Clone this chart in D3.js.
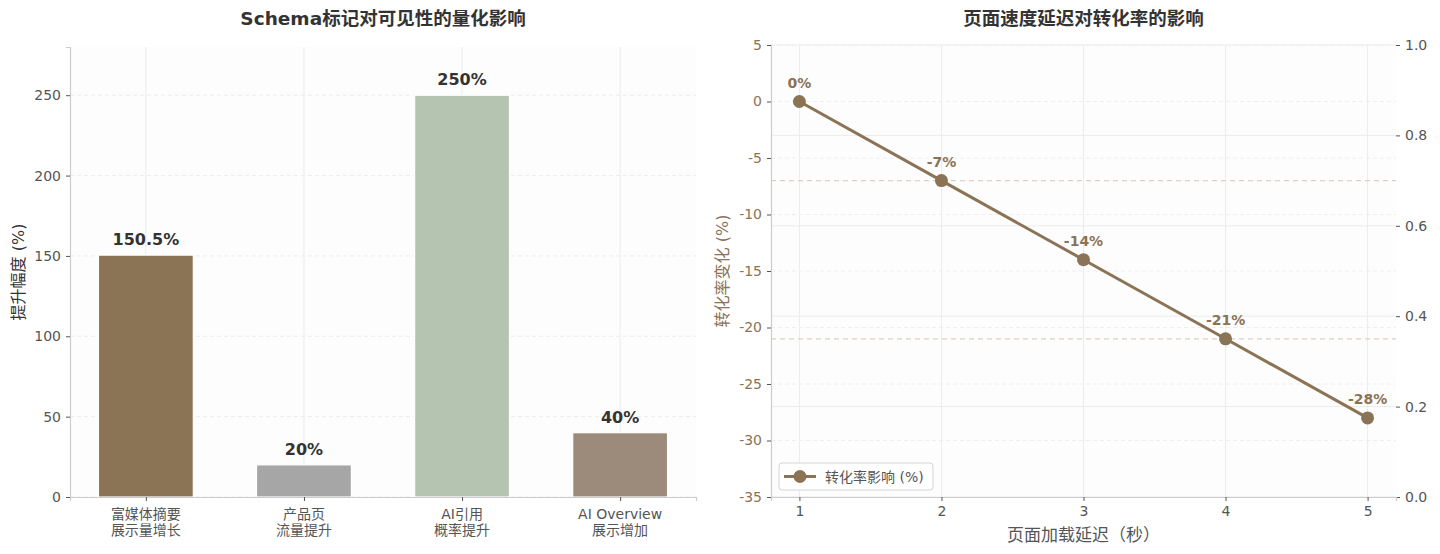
<!DOCTYPE html>
<html>
<head>
<meta charset="utf-8">
<script src="https://cdn.jsdelivr.net/npm/d3@7"></script>
<style>
body { margin: 0; background: #fff; }
svg text { font-family: "DejaVu Sans", "Noto Sans CJK SC", sans-serif; }
.tick text { font-size: 14px; fill: #555; }
.tick line { stroke: #555; }
</style>
</head>
<body>
<div id="chart"></div>
<script>
// left chart data
const barLabels = [['富媒体摘要', '展示量增长'], ['产品页', '流量提升'], ['AI引用', '概率提升'], ['AI Overview', '展示增加']];
const barValues = [150.5, 20, 250, 40];
const barText = ['150.5%', '20%', '250%', '40%'];
const barColors = ['#8B7355', '#A6A6A6', '#B5C4B1', '#9C8B7A'];
const barTicks = [0, 50, 100, 150, 200, 250];

// right chart data
const delaySec = [1, 2, 3, 4, 5];
const convChange = [0, -7, -14, -21, -28];
const convTicks = [5, 0, -5, -10, -15, -20, -25, -30, -35];
const rightTicks = [0, 0.2, 0.4, 0.6, 0.8, 1.0];
const refLines = [-7, -21];

const brown = '#8B7355';

const svg = d3.select('#chart').append('svg')
    .attr('width', 1440).attr('height', 554);

// ---------- left: bars ----------
const L = { left: 70, right: 696, top: 47, bottom: 497 };
const x1 = d3.scaleLinear().domain([-0.48, 3.48]).range([L.left, L.right]);
const y1 = d3.scaleLinear().domain([0, 280]).range([L.bottom, L.top]);
const g1 = svg.append('g');

g1.append('rect')
    .attr('x', L.left).attr('y', L.top)
    .attr('width', L.right - L.left).attr('height', L.bottom - L.top)
    .attr('fill', '#fdfdfd');

g1.selectAll('.vgrid').data(barValues).enter().append('line')
    .attr('x1', (d, i) => x1(i)).attr('x2', (d, i) => x1(i))
    .attr('y1', L.top).attr('y2', L.bottom)
    .attr('stroke', '#ececec').attr('stroke-width', 1);

g1.selectAll('.hgrid').data(barTicks).enter().append('line')
    .attr('x1', L.left).attr('x2', L.right)
    .attr('y1', d => y1(d)).attr('y2', d => y1(d))
    .attr('stroke', '#ececec').attr('stroke-dasharray', '4,3');

const bw = x1(0.6) - x1(0);
g1.selectAll('.bar').data(barValues).enter().append('rect')
    .attr('x', (d, i) => x1(i) - bw / 2)
    .attr('y', d => y1(d))
    .attr('width', bw)
    .attr('height', d => y1(0) - y1(d))
    .attr('fill', (d, i) => barColors[i])
    .attr('stroke', '#fff').attr('stroke-width', 1.2);

g1.selectAll('.blabel').data(barValues).enter().append('text')
    .attr('x', (d, i) => x1(i))
    .attr('y', d => y1(d) - 10)
    .attr('text-anchor', 'middle')
    .style('font-size', '16px').style('font-weight', 'bold')
    .attr('fill', '#333')
    .text((d, i) => barText[i]);

const ay1 = g1.append('g')
    .attr('transform', `translate(${L.left},0)`)
    .call(d3.axisLeft(y1).tickValues(barTicks).tickSize(4).tickPadding(5));
ay1.select('.domain').attr('stroke', '#ccc').attr('stroke-width', 1.2);

const ax1 = g1.append('g')
    .attr('transform', `translate(0,${L.bottom})`)
    .call(d3.axisBottom(x1).tickValues([0, 1, 2, 3]).tickSize(4).tickFormat(''));
ax1.select('.domain').attr('stroke', '#ccc').attr('stroke-width', 1.2);

g1.selectAll('.xlab').data(barLabels).enter().append('text')
    .attr('x', (d, i) => x1(i))
    .attr('y', L.bottom + 22)
    .attr('text-anchor', 'middle')
    .style('font-size', '14px').attr('fill', '#555')
    .selectAll('tspan').data(d => d).enter().append('tspan')
    .attr('x', function() { return d3.select(this.parentNode).attr('x'); })
    .attr('dy', (d, i) => i === 0 ? 0 : 16)
    .text(d => d);

g1.append('text')
    .attr('transform', `translate(24,${(L.top + L.bottom) / 2}) rotate(-90)`)
    .attr('text-anchor', 'middle')
    .style('font-size', '16px').attr('fill', '#333')
    .text('提升幅度 (%)');

g1.append('text')
    .attr('x', (L.left + L.right) / 2).attr('y', 25)
    .attr('text-anchor', 'middle')
    .style('font-size', '18.5px').style('font-weight', 'bold').attr('fill', '#333')
    .text('Schema标记对可见性的量化影响');

// ---------- right: line ----------
const R = { left: 771, right: 1396, top: 45, bottom: 497 };
const x2 = d3.scaleLinear().domain([0.8, 5.2]).range([R.left, R.right]);
const y2 = d3.scaleLinear().domain([-35, 5]).range([R.bottom, R.top]);
const y3 = d3.scaleLinear().domain([0, 1]).range([R.bottom, R.top]);
const g2 = svg.append('g');

g2.append('rect')
    .attr('x', R.left).attr('y', R.top)
    .attr('width', R.right - R.left).attr('height', R.bottom - R.top)
    .attr('fill', '#fdfdfd');

g2.selectAll('.vgrid').data(delaySec).enter().append('line')
    .attr('x1', d => x2(d)).attr('x2', d => x2(d))
    .attr('y1', R.top).attr('y2', R.bottom)
    .attr('stroke', '#ececec');

g2.selectAll('.hgrid').data(convTicks).enter().append('line')
    .attr('x1', R.left).attr('x2', R.right)
    .attr('y1', d => y2(d)).attr('y2', d => y2(d))
    .attr('stroke', '#eeeeee').attr('stroke-dasharray', '4,3');

g2.selectAll('.rgrid').data(rightTicks).enter().append('line')
    .attr('x1', R.left).attr('x2', R.right)
    .attr('y1', d => y3(d)).attr('y2', d => y3(d))
    .attr('stroke', '#ececec');

g2.selectAll('.ref').data(refLines).enter().append('line')
    .attr('x1', R.left).attr('x2', R.right)
    .attr('y1', d => y2(d)).attr('y2', d => y2(d))
    .attr('stroke', '#dcd3c6').attr('stroke-width', 1.2).attr('stroke-dasharray', '5,4');

const line = d3.line()
    .x((d, i) => x2(delaySec[i]))
    .y(d => y2(d));

g2.append('path')
    .datum(convChange)
    .attr('d', line)
    .attr('fill', 'none')
    .attr('stroke', brown).attr('stroke-width', 3);

g2.selectAll('.dot').data(convChange).enter().append('circle')
    .attr('cx', (d, i) => x2(delaySec[i]))
    .attr('cy', d => y2(d))
    .attr('r', 6.5)
    .attr('fill', brown);

g2.selectAll('.plabel').data(convChange).enter().append('text')
    .attr('x', (d, i) => x2(delaySec[i]))
    .attr('y', d => y2(d) - 14)
    .attr('text-anchor', 'middle')
    .style('font-size', '14px').style('font-weight', 'bold')
    .attr('fill', brown)
    .text(d => d + '%');

const ay2 = g2.append('g')
    .attr('transform', `translate(${R.left},0)`)
    .call(d3.axisLeft(y2).tickValues(convTicks).tickSize(4).tickPadding(5).tickFormat(d => String(d)));
ay2.select('.domain').attr('stroke', '#ccc').attr('stroke-width', 1.2);
ay2.selectAll('.tick text').style('fill', brown);

const ay3 = g2.append('g')
    .attr('transform', `translate(${R.right},0)`)
    .call(d3.axisRight(y3).tickValues(rightTicks).tickSize(4).tickPadding(5).tickFormat(d3.format('.1f')));
ay3.select('.domain').remove();

const ax2 = g2.append('g')
    .attr('transform', `translate(0,${R.bottom})`)
    .call(d3.axisBottom(x2).tickValues(delaySec).tickSize(4).tickPadding(5).tickFormat(d => String(d)));
ax2.select('.domain').attr('stroke', '#ccc').attr('stroke-width', 1.2);

g2.append('text')
    .attr('transform', `translate(728,${(R.top + R.bottom) / 2}) rotate(-90)`)
    .attr('text-anchor', 'middle')
    .style('font-size', '16px').attr('fill', brown)
    .text('转化率变化 (%)');

g2.append('text')
    .attr('x', (R.left + R.right) / 2).attr('y', 541)
    .attr('text-anchor', 'middle')
    .style('font-size', '17px').attr('fill', '#555')
    .text('页面加载延迟（秒）');

g2.append('text')
    .attr('x', (R.left + R.right) / 2).attr('y', 25)
    .attr('text-anchor', 'middle')
    .style('font-size', '18.5px').style('font-weight', 'bold').attr('fill', '#333')
    .text('页面速度延迟对转化率的影响');

// legend
const lg = g2.append('g').attr('transform', `translate(${R.left + 8},${R.bottom - 34})`);
lg.append('rect')
    .attr('width', 154).attr('height', 27).attr('rx', 3)
    .attr('fill', '#fff').attr('stroke', '#d5d5d5');
lg.append('line')
    .attr('x1', 5).attr('x2', 37).attr('y1', 13.5).attr('y2', 13.5)
    .attr('stroke', brown).attr('stroke-width', 3);
lg.append('circle').attr('cx', 21).attr('cy', 13.5).attr('r', 6.5).attr('fill', brown);
lg.append('text')
    .attr('x', 46).attr('y', 18.5)
    .style('font-size', '14px').attr('fill', '#555')
    .text('转化率影响 (%)');
</script>
</body>
</html>
